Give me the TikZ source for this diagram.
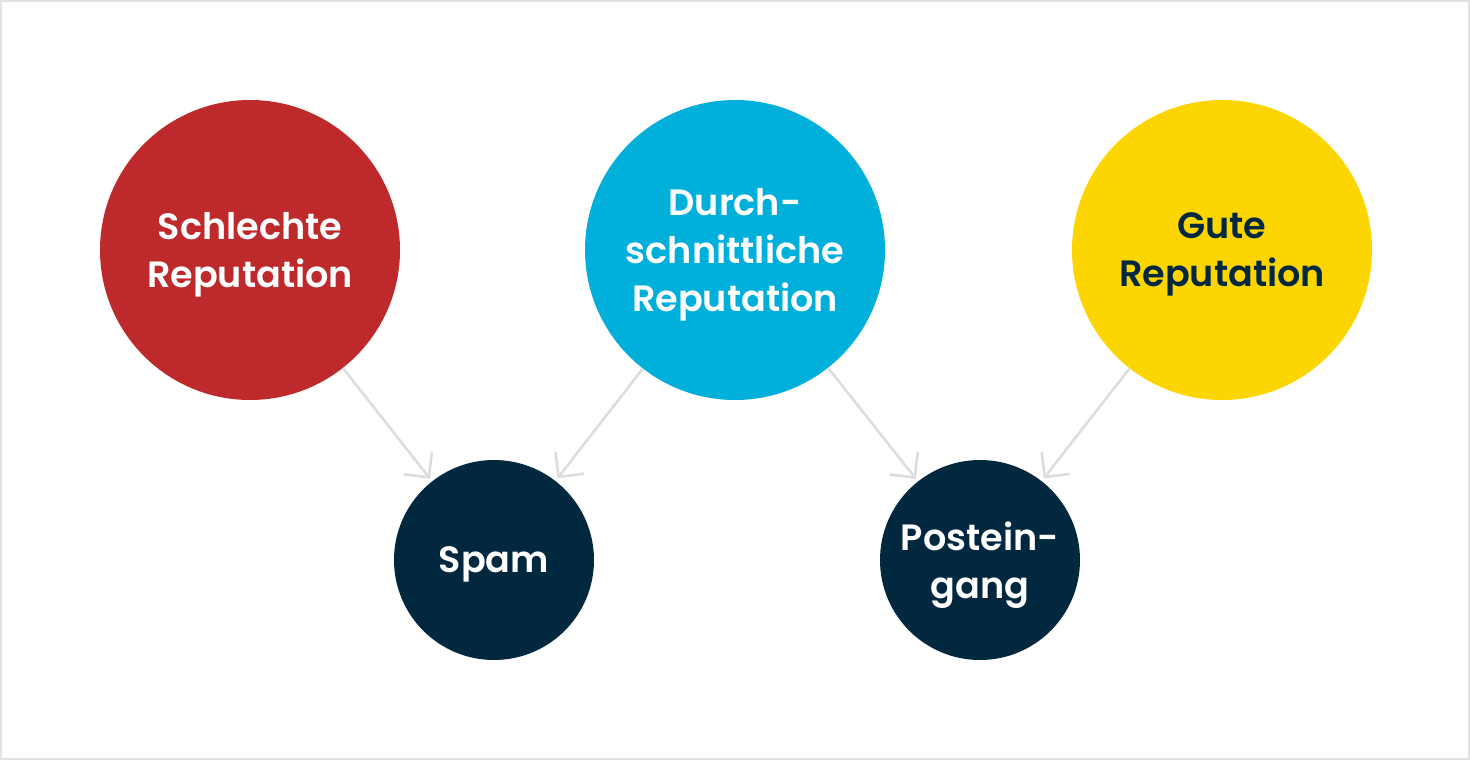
\documentclass[tikz,border=0pt]{standalone}
\usepackage{fontspec}
\setmainfont{Poppins}[UprightFont={* SemiBold}]
\usetikzlibrary{arrows.meta}

\definecolor{badred}{HTML}{BE2A2C}
\definecolor{avgblue}{HTML}{00B0DA}
\definecolor{goodyellow}{HTML}{FDD500}
\definecolor{navy}{HTML}{01283F}
\definecolor{arrowgray}{HTML}{DDDDDD}
\definecolor{framegray}{HTML}{E2E2E2}

\begin{document}
\begin{tikzpicture}[%
    x=0.5pt,y=-0.5pt,%
    repcircle/.style={circle,minimum size=150pt,inner sep=0pt,align=center,%
      text depth=0pt,font=\fontsize{18.3pt}{24pt}\selectfont,text=white},%
    sinkcircle/.style={repcircle,minimum size=100pt,fill=navy},%
    flowarrow/.style={draw=arrowgray,line width=1.3pt,shorten >=1.5pt,%
      -{Straight Barb[length=9pt,width=18pt,line width=1.3pt]}},%
  ]%
  \draw[framegray,line width=1pt] (1,1) rectangle (1469,759);%
  \node[repcircle,fill=badred] (bad) at (250,250) {Schlechte\\Reputation};%
  \node[repcircle,fill=avgblue] (avg) at (735,250) {Durch-\\schnittliche\\Reputation};%
  \node[repcircle,fill=goodyellow,text=navy] (good) at (1222,250) {Gute\\Reputation};%
  \node[sinkcircle] (spam) at (494,560) {Spam};%
  \node[sinkcircle] (inbox) at (980,560) {Postein-\\gang};%
  \draw[flowarrow] (bad) -- (spam);%
  \draw[flowarrow] (avg) -- (spam);%
  \draw[flowarrow] (avg) -- (inbox);%
  \draw[flowarrow] (good) -- (inbox);%
\end{tikzpicture}
\end{document}
